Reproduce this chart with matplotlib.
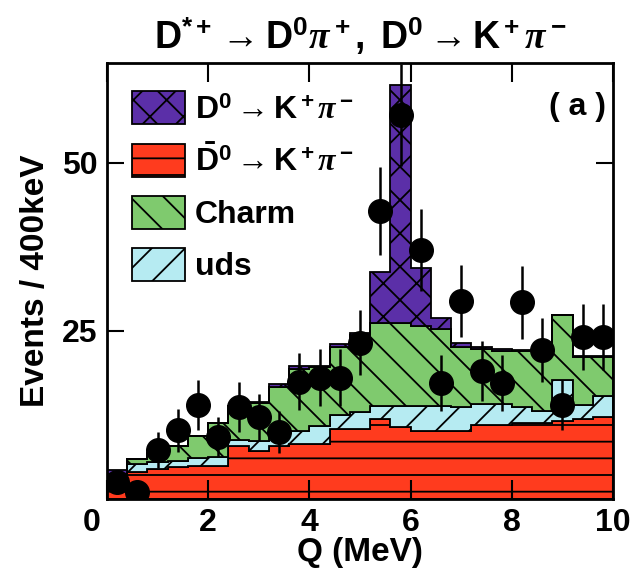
import numpy as np
import matplotlib.pyplot as plt
from matplotlib.patches import Patch
from matplotlib.transforms import ScaledTranslation

plt.rcParams['font.family'] = ['Liberation Sans', 'DejaVu Sans']
plt.rcParams['font.weight'] = 'bold'
plt.rcParams['axes.labelweight'] = 'bold'
plt.rcParams['axes.titleweight'] = 'bold'
plt.rcParams['mathtext.fontset'] = 'custom'
plt.rcParams['mathtext.rm'] = 'Liberation Sans:bold'
plt.rcParams['mathtext.bf'] = 'Liberation Sans:bold'
plt.rcParams['mathtext.it'] = 'Liberation Serif:italic'
plt.rcParams['hatch.linewidth'] = 1.3

# bins of 400 keV in Q
bin_edges = np.arange(0, 10.01, 0.4)
q_centers = [0.2, 0.6, 1.0, 1.4, 1.8, 2.2, 2.6, 3.0, 3.4, 3.8, 4.2, 4.6, 5.0,
             5.4, 5.8, 6.2, 6.6, 7.0, 7.4, 7.8, 8.2, 8.6, 9.0, 9.4, 9.8]

# data points
counts = [2.5, 1.0, 7.2, 10.2, 13.9, 9.2, 13.6, 12.1, 9.9, 17.4, 18.0, 18.0, 23.2,
          42.8, 57.1, 37.0, 17.2, 29.4, 19.0, 17.2, 29.2, 22.1, 13.9, 24.1, 24.1]
errors = [1.6, 1.0, 2.7, 3.2, 3.7, 3.0, 3.7, 3.5, 3.1, 4.2, 4.2, 4.2, 4.8,
          6.5, 7.6, 6.1, 4.1, 5.4, 4.4, 4.1, 5.4, 4.7, 3.7, 4.9, 4.9]

# stacked MC components (per bin contributions)
dbar_kpi = [2.3, 4.0, 4.4, 4.7, 4.9, 4.9, 7.8, 7.1, 7.8, 8.1, 8.1, 10.3, 10.3,
            11.8, 10.6, 10.1, 10.1, 10.1, 11.0, 11.0, 11.3, 11.3, 11.6, 11.8, 12.1]
uds = [0.7, 1.1, 1.0, 0.9, 1.1, 1.3, 1.0, 1.5, 1.5, 2.0, 2.7, 2.2, 2.6,
       2.0, 3.2, 3.7, 3.7, 3.6, 3.1, 3.1, 2.3, 1.7, 6.1, 2.2, 3.1]
charm = [0.6, 0.8, 1.4, 2.2, 3.3, 5.1, 5.0, 5.7, 7.3, 9.2, 8.8, 10.1, 11.4,
         12.3, 12.4, 11.9, 11.5, 8.9, 8.2, 7.8, 8.4, 8.8, 9.6, 7.1, 5.9]
d0_kpi = [0.7, 0.0, 0.0, 0.0, 0.0, 0.0, 0.0, 0.1, 0.4, 0.4, 0.2, 0.4, 0.3,
          7.6, 35.3, 8.6, 1.5, 0.6, 0.3, 0.3, 0.1, 0.1, 0.0, 0.1, 0.1]

labels = [r'$\mathrm{D}^0\rightarrow\mathrm{K}^+\pi^-$',
          r'$\bar{\mathrm{D}}^0\rightarrow\mathrm{K}^+\pi^-$',
          'Charm', 'uds']
colors = ['#5b2fa8', '#ff3b1e', '#7fca6e', '#b6ebf2']
hatches = ['x', '-', '\\', '/']

fig = plt.figure(figsize=(6.35, 5.79), dpi=100)
ax = fig.add_axes([0.1685, 0.1387, 0.797, 0.7525])

layers = [dbar_kpi, uds, charm, d0_kpi]
layer_style = [(colors[1], hatches[1]), (colors[3], hatches[3]),
               (colors[2], hatches[2]), (colors[0], hatches[0])]
bottom = np.zeros(len(q_centers))
for vals, (c, h) in zip(layers, layer_style):
    top = bottom + np.array(vals)
    ax.stairs(top, bin_edges, baseline=bottom, fill=True, facecolor=c,
              edgecolor='black', hatch=h, linewidth=1.3)
    bottom = top

ax.errorbar(q_centers, counts, yerr=errors, fmt='o', color='black',
            markersize=17, elinewidth=1.8, capsize=0, zorder=5)

ax.set_xlim(0, 10)
ax.set_ylim(0, 64.8)
ax.set_xticks([0, 2, 4, 6, 8, 10])
ax.set_yticks([25, 50])
ax.tick_params(axis='both', direction='in', top=True, right=True,
               labelsize=23, width=1.5, pad=7)
ax.tick_params(axis='x', length=14)
ax.tick_params(axis='y', length=12)
for sp in ax.spines.values():
    sp.set_linewidth(2)

# the "0" label sits a little to the left of the axis corner
lab0 = ax.get_xticklabels()[0]
lab0.set_transform(lab0.get_transform() + ScaledTranslation(-0.15, 0, fig.dpi_scale_trans))

ax.set_xlabel('Q (MeV)', fontsize=24, labelpad=-1)
ax.set_ylabel('Events / 400keV', fontsize=24, labelpad=8)
ax.set_title(r'$\mathrm{D}^{*+}\rightarrow\mathrm{D}^0\pi^+,\ \mathrm{D}^0\rightarrow\mathrm{K}^+\pi^-$',
             fontsize=27, pad=10)
ax.text(0.93, 0.90, '( a )', transform=ax.transAxes, fontsize=23,
        ha='center', va='center')

handles = [Patch(facecolor=c, edgecolor='black', hatch=h, linewidth=1.3)
           for c, h in zip(colors, hatches)]
ax.legend(handles, labels, loc='upper left', bbox_to_anchor=(0.05, 0.935),
          frameon=False, fontsize=23, handlelength=1.66, handleheight=1.22,
          labelspacing=0.56, handletextpad=0.3, borderpad=0, borderaxespad=0)

fig.savefig('out.png', dpi=100)
